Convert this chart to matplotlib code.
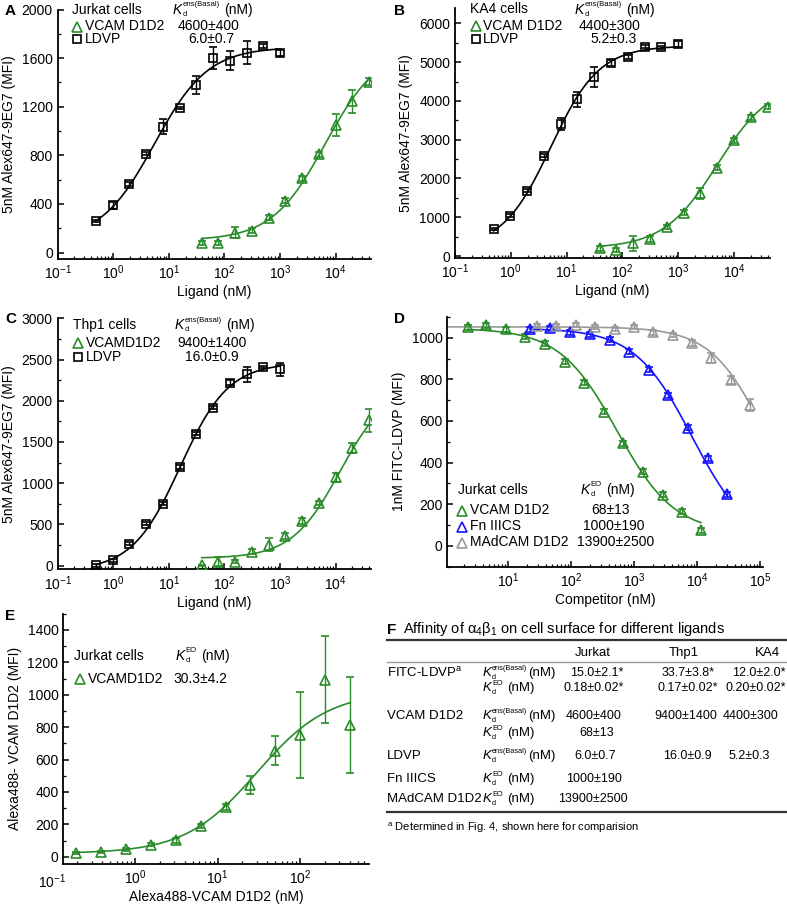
import numpy as np
import matplotlib
matplotlib.use("Agg")
import matplotlib.pyplot as plt
from matplotlib.lines import Line2D
from matplotlib.ticker import LogLocator, MultipleLocator, NullFormatter

plt.rcParams['font.family'] = ['Liberation Sans', 'DejaVu Sans']
plt.rcParams['mathtext.fontset'] = 'custom'
plt.rcParams['mathtext.rm'] = 'Liberation Sans'
plt.rcParams['mathtext.it'] = 'Liberation Sans:italic'
plt.rcParams['mathtext.bf'] = 'Liberation Sans:bold'
plt.rcParams['font.size'] = 10
plt.rcParams['xtick.direction'] = 'in'
plt.rcParams['ytick.direction'] = 'in'

VERDE = '#2b8b2b'
AZUL = '#1414ff'
GRIS = '#999999'

# --- Datos A (Jurkat) ---
conc_ldvp = [0.49, 0.98, 1.95, 3.9, 7.8, 15.6, 31.25, 62.5, 125, 250, 500, 1000]
conc_vcam = [39, 78, 156, 312, 625, 1250, 2500, 5000, 10000, 20000, 40000]
a_ldvp = [260, 390, 565, 815, 1035, 1190, 1380, 1600, 1580, 1645, 1700, 1640]
a_ldvp_err = [12, 30, 15, 15, 60, 10, 75, 90, 80, 95, 15, 25]
a_vcam = [80, 80, 165, 180, 285, 425, 610, 810, 1050, 1245, 1405]
a_vcam_err = [15, 15, 45, 20, 20, 20, 20, 20, 90, 95, 30]

# --- Datos B (KA4) ---
b_ldvp = [690, 1040, 1680, 2590, 3400, 4040, 4620, 4970, 5140, 5400, 5380, 5460]
b_ldvp_err = [30, 40, 40, 40, 150, 200, 260, 80, 50, 30, 40, 80]
b_vcam = [200, 150, 330, 450, 750, 1120, 1620, 2280, 2980, 3580, 3850]
b_vcam_err = [60, 50, 200, 80, 60, 60, 140, 60, 60, 60, 60]

# --- Datos C (Thp1) ---
c_ldvp = [5, 65, 265, 510, 750, 1195, 1600, 1915, 2220, 2320, 2410, 2380]
c_ldvp_err = [20, 20, 20, 20, 20, 20, 20, 20, 30, 90, 15, 80]
c_vcam = [5, 50, 50, 170, 255, 360, 540, 760, 1070, 1430, 1765]
c_vcam_err = [5, 50, 20, 30, 80, 40, 40, 30, 60, 60, 140]

# --- Datos D (competencia, Jurkat) ---
d_x_vcam = [2.3, 4.6, 9.4, 19, 39, 80, 162, 330, 665, 1380, 2850, 5710, 11500]
d_vcam = [1050, 1061, 1040, 1005, 970, 885, 784, 644, 492, 356, 244, 163, 75]
d_x_fn = [22.4, 46.8, 97, 204, 415, 841, 1710, 3520, 7150, 14700, 29600]
d_fn = [1040, 1045, 1026, 1016, 989, 933, 845, 724, 567, 420, 247]
d_x_mad = [28.8, 58.5, 120, 244, 494, 1015, 2040, 4140, 8400, 16900, 34600, 70100]
d_mad = [1056, 1056, 1061, 1053, 1040, 1050, 1026, 1013, 973, 901, 797, 676]
d_mad_err = [10, 10, 10, 10, 10, 10, 12, 12, 15, 25, 20, 30]

# --- Datos E ---
e_x = [0.195, 0.39, 0.78, 1.56, 3.125, 6.25, 12.5, 25, 50, 100, 200, 400]
e_y = [22, 28, 45, 75, 102, 190, 308, 445, 655, 750, 1093, 815]
e_err = [8, 8, 10, 10, 15, 15, 20, 55, 90, 267, 270, 295]

# parametros de ajuste (fondo, tope, ec50, hill)
fit_a_ldvp = (100, 1690, 5.5, 0.9)
fit_a_vcam = (100, 1690, 6500, 0.9)
fit_b_ldvp = (200, 5420, 5.2, 1.0)
fit_b_vcam = (200, 4500, 5000, 0.9)
fit_c_ldvp = (-60, 2460, 16, 1.0)
fit_c_vcam = (90, 2200, 12000, 1.0)
fit_d_vcam = (60, 1045, 540, 0.95)
fit_d_fn = (0, 1045, 8400, 0.95)
fit_d_mad = (0, 1052, 126000, 1.0)
fit_e = (20, 1020, 30, 1.0)

# --- Tabla F ---
col_celulas = ['Jurkat', 'Thp1', 'KA4']
tabla_ligandos = ['FITC-LDVP$^\\mathrm{a}$', 'VCAM D1D2', 'LDVP', 'Fn IIICS', 'MAdCAM D1D2']
fitc_ens = ['15.0±2.1*', '33.7±3.8*', '12.0±2.0*']
fitc_eo = ['0.18±0.02*', '0.17±0.02*', '0.20±0.02*']
vcam_ens = ['4600±400', '9400±1400', '4400±300']
vcam_eo = ['68±13']
ldvp_ens = ['6.0±0.7', '16.0±0.9', '5.2±0.3']
fn_eo = ['1000±190']
mad_eo = ['13900±2500']

W, H = 787, 906
fig = plt.figure(figsize=(W / 100, H / 100), dpi=100)
rend = fig.canvas.get_renderer()


def fx(x):
    return x / W


def fy(y):
    return 1 - y / H


def caja(l, t, r, b):
    return fig.add_axes([fx(l), fy(b), (r - l) / W, (b - t) / H])


def texto(x, y, s, **kw):
    kw.setdefault('va', 'center')
    return fig.text(fx(x), fy(y), s, **kw)


def kd(x, y, sup, size=10, espacio=True):
    # K_d con superindice pequeño, armado a mano
    em = size * 100 / 72
    k = texto(x, y, 'K', style='italic', fontsize=size)
    x1 = k.get_window_extent(rend).x1 + 0.3
    s = texto(x1, y - 0.36 * em, sup, fontsize=size * 0.56)
    d = texto(x1, y + 0.32 * em, 'd', fontsize=size * 0.56)
    x2 = max(s.get_window_extent(rend).x1, d.get_window_extent(rend).x1)
    texto(x2 + (0.3 * em if espacio else 0.3), y, '(nM)', fontsize=size)


def clave(x, y, marker, color, ms=6.5):
    fig.add_artist(Line2D([fx(x)], [fy(y)], transform=fig.transFigure, marker=marker,
                          mfc='none', mec=color, ms=ms, mew=1.2, ls='none'))


def raya(x0, x1, y, color='#333333', lw=1.6):
    fig.add_artist(Line2D([fx(x0), fx(x1)], [fy(y), fy(y)], transform=fig.transFigure,
                          color=color, lw=lw))


def logistica(x, p):
    bot, top, ec50, h = p
    return bot + (top - bot) / (1 + (ec50 / x) ** h)


def inhibicion(x, p):
    bot, top, ic50, h = p
    return bot + (top - bot) / (1 + (x / ic50) ** h)


def estilo(ax, ymin, ymax, mayor, menor, xmin, xmax):
    ax.set_xscale('log')
    ax.set_xlim(xmin, xmax)
    ax.set_ylim(ymin, ymax)
    ax.yaxis.set_major_locator(MultipleLocator(mayor))
    ax.yaxis.set_minor_locator(MultipleLocator(menor))
    ax.xaxis.set_major_locator(LogLocator(base=10, numticks=20))
    ax.xaxis.set_minor_locator(LogLocator(base=10, subs=np.arange(2, 10), numticks=20))
    ax.xaxis.set_minor_formatter(NullFormatter())
    for lado in ['top', 'right']:
        ax.spines[lado].set_visible(False)
    for lado in ['left', 'bottom']:
        ax.spines[lado].set_linewidth(1.3)
    ax.tick_params(which='major', length=4, width=1.1, labelsize=10)
    ax.tick_params(which='minor', length=2.2, width=0.9)


def puntos(ax, x, y, err, marker, color, ms=6.5):
    ax.errorbar(x, y, yerr=err, fmt=marker, mfc='none', mec=color, ecolor=color, ms=ms,
                mew=1.2, capsize=3, elinewidth=1.0, capthick=1.0, zorder=3)


def curva(ax, x0, x1, p, color, f=logistica):
    xs = np.logspace(np.log10(x0), np.log10(x1), 200)
    ax.plot(xs, f(xs, p), color=color, lw=1.2, zorder=2)


# ---------------- A ----------------
ax = caja(57.7, 9.5, 371, 259)
estilo(ax, -53, 2000, 400, 200, 0.1, 43200)
puntos(ax, conc_ldvp, a_ldvp, a_ldvp_err, 's', 'black', 5.5)
puntos(ax, conc_vcam, a_vcam, a_vcam_err, '^', VERDE)
curva(ax, conc_ldvp[0], conc_ldvp[-1], fit_a_ldvp, 'black')
curva(ax, conc_vcam[0], conc_vcam[-1], fit_a_vcam, VERDE)
ax.set_xlabel('Ligand (nM)', labelpad=2)
ax.set_ylabel('5nM Alex647-9EG7 (MFI)')
texto(5, 11, 'A', fontweight='bold', fontsize=11)
texto(72, 9.5, 'Jurkat cells')
kd(173, 10, 'ens(Basal)')
clave(77, 26.5, '^', VERDE)
texto(85, 26.5, 'VCAM D1D2')
texto(209, 26.5, vcam_ens[0], ha='center')
clave(77, 39, 's', 'black', 5.5)
texto(85, 39, 'LDVP')
texto(211, 39, ldvp_ens[0], ha='center')

# ---------------- B ----------------
ax = caja(455, 7.8, 770, 258)
estilo(ax, -50, 6400, 1000, 500, 0.1, 44200)
puntos(ax, conc_ldvp, b_ldvp, b_ldvp_err, 's', 'black', 5.5)
puntos(ax, conc_vcam, b_vcam, b_vcam_err, '^', VERDE)
curva(ax, conc_ldvp[0], conc_ldvp[-1], fit_b_ldvp, 'black')
curva(ax, conc_vcam[0], conc_vcam[-1], fit_b_vcam, VERDE)
ax.set_xlabel('Ligand (nM)', labelpad=2)
ax.set_ylabel('5nM Alex647-9EG7 (MFI)')
texto(394, 11, 'B', fontweight='bold', fontsize=11)
texto(470, 9, 'KA4 cells')
kd(575, 10, 'ens(Basal)')
clave(476, 25.5, '^', VERDE)
texto(483, 25.5, 'VCAM D1D2')
texto(610, 25.5, vcam_ens[2], ha='center')
clave(476, 39, 's', 'black', 5.5)
texto(483, 39, 'LDVP')
texto(614, 39, ldvp_ens[2], ha='center')

# ---------------- C ----------------
ax = caja(57.7, 318.3, 371, 569.4)
estilo(ax, -45, 3000, 500, 250, 0.1, 43200)
puntos(ax, conc_ldvp, c_ldvp, c_ldvp_err, 's', 'black', 5.5)
puntos(ax, conc_vcam, c_vcam, c_vcam_err, '^', VERDE)
curva(ax, conc_ldvp[0], conc_ldvp[-1], fit_c_ldvp, 'black')
curva(ax, conc_vcam[0], conc_vcam[-1], fit_c_vcam, VERDE)
ax.set_xlabel('Ligand (nM)', labelpad=2)
ax.set_ylabel('5nM Alex647-9EG7 (MFI)')
texto(5, 319, 'C', fontweight='bold', fontsize=11)
texto(72.7, 325, 'Thp1 cells')
kd(175, 325, 'ens(Basal)')
clave(77.5, 343, '^', VERDE)
texto(86, 343, 'VCAMD1D2')
texto(212, 343, vcam_ens[1], ha='center')
clave(77.5, 356.5, 's', 'black', 5.5)
texto(86, 356.5, 'LDVP')
texto(212, 356.5, ldvp_ens[1], ha='center')

# ---------------- D ----------------
ax = caja(447.3, 316.9, 762.7, 566.5)
estilo(ax, -100, 1100, 200, 100, 1.1, 1.1e5)
puntos(ax, d_x_vcam, d_vcam, 12, '^', VERDE)
puntos(ax, d_x_fn, d_fn, 12, '^', AZUL)
puntos(ax, d_x_mad, d_mad, d_mad_err, '^', GRIS)
curva(ax, 1.1, d_x_mad[-1], fit_d_mad, GRIS, inhibicion)
curva(ax, d_x_vcam[0], d_x_vcam[-1], fit_d_vcam, VERDE, inhibicion)
curva(ax, d_x_fn[0], d_x_fn[-1], fit_d_fn, AZUL, inhibicion)
ax.set_xlabel('Competitor (nM)', labelpad=2)
ax.set_ylabel('1nM FITC-LDVP (MFI)')
texto(394, 319, 'D', fontweight='bold', fontsize=11)
texto(458, 490, 'Jurkat cells')
kd(581, 490, 'EO')
for fila, (nombre, color, valor, cx) in enumerate([('VCAM D1D2', VERDE, vcam_eo[0], 611),
                                                    ('Fn IIICS', AZUL, fn_eo[0], 614),
                                                    ('MAdCAM D1D2', GRIS, mad_eo[0], 616)]):
    yy = 510.5 + 16 * fila
    clave(462, yy, '^', color)
    texto(470, yy, nombre)
    texto(cx, yy, valor, ha='center')

# ---------------- E ----------------
ax = caja(63.3, 613.8, 369.3, 864)
estilo(ax, -45, 1500, 200, 100, 0.135, 692)
puntos(ax, e_x, e_y, e_err, '^', VERDE)
curva(ax, e_x[0], e_x[-1], fit_e, VERDE)
ax.text(0.1, -0.035, '$\\mathdefault{10^{-1}}$', transform=ax.get_xaxis_transform(),
        ha='center', va='top', fontsize=10, clip_on=False)
ax.set_xlabel('Alexa488-VCAM D1D2 (nM)', labelpad=2)
ax.set_ylabel('Alexa488- VCAM D1D2 (MFI)')
texto(5, 616, 'E', fontweight='bold', fontsize=11)
texto(74, 656, 'Jurkat cells')
kd(176, 656, 'EO')
clave(79.5, 679, '^', VERDE)
texto(88, 679, 'VCAMD1D2')
texto(200, 679, '30.3±4.2', ha='center')

# ---------------- F (tabla) ----------------
TS = 9.5
VS = 9
texto(387, 630, 'F', fontweight='bold', fontsize=11)
texto(403, 629.5, 'Affinity of α$_4$β$_1$ on cell surface for different ligands', fontsize=10.5)
raya(387, 787, 640)
cols = [593, 684, 767]
for c, nombre in zip(cols, col_celulas):
    texto(c, 653, nombre, ha='center', fontsize=TS)
raya(387, 787, 661.5, color='#9a9a9a', lw=1.0)

filas_y = [673, 688, 716, 733, 756, 779, 799]
texto(387, filas_y[0], tabla_ligandos[0], fontsize=TS)
texto(387, filas_y[2], tabla_ligandos[1], fontsize=TS)
texto(387, filas_y[4], tabla_ligandos[2], fontsize=TS)
texto(387, filas_y[5], tabla_ligandos[3], fontsize=TS)
texto(387, filas_y[6], tabla_ligandos[4], fontsize=TS)
tipos = ['ens(Basal)', 'EO', 'ens(Basal)', 'EO', 'ens(Basal)', 'EO', 'EO']
for yy, t in zip(filas_y, tipos):
    kd(483, yy, t, size=TS, espacio=(t == 'EO'))
valores = [fitc_ens, fitc_eo, vcam_ens, vcam_eo, ldvp_ens, fn_eo, mad_eo]
col_x = [[597, 688], [594, 688], [594, 686], [597], [595, 687], [594], [593]]
ka4_fin = [786, 786, 778, None, 770, None, None]
for yy, vals, xs, xf in zip(filas_y, valores, col_x, ka4_fin):
    for v, c in zip(vals, xs):
        texto(c, yy, v, ha='center', fontsize=VS)
    if xf is not None:
        texto(xf, yy, vals[2], ha='right', fontsize=VS)
raya(387, 787, 811.5)
texto(387, 828, '$^\\mathrm{a}$ Determined in Fig. 4, shown here for comparision', fontsize=8)

fig.savefig('out.png', dpi=100)
